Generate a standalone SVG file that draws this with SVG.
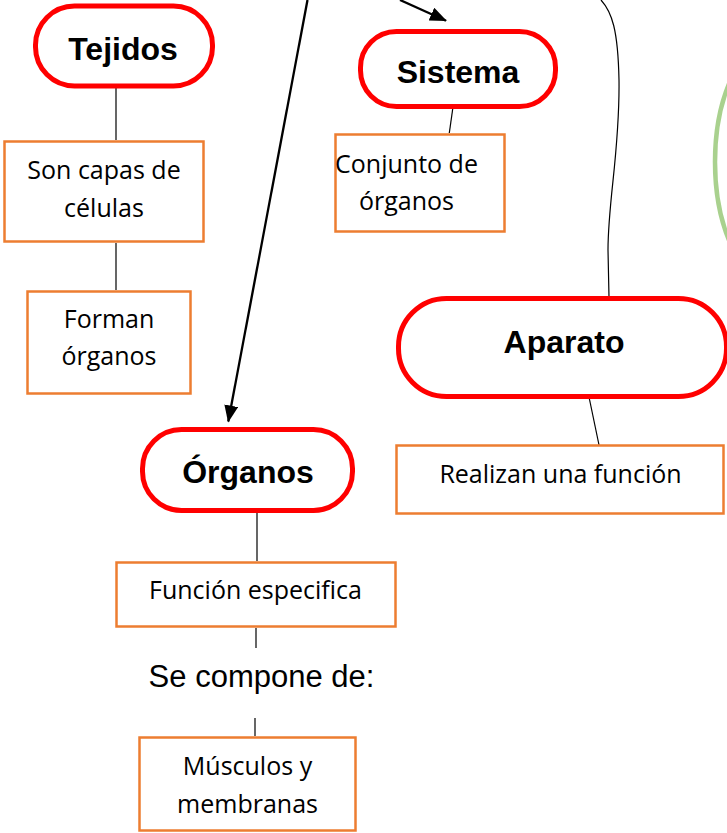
<svg xmlns="http://www.w3.org/2000/svg" width="727" height="833" viewBox="0 0 727 833">
<style>
.pill{fill:#fff;stroke:#ff0000;stroke-width:5}
.box{fill:#fff;stroke:#ed7d31;stroke-width:2.5}
.lbl{font-family:"Liberation Sans",Arial,sans-serif;font-weight:bold;font-size:32px;fill:#000;text-anchor:middle}
.txt{font-family:"Open Sans","Noto Sans",sans-serif;font-size:25px;fill:#000;text-anchor:middle}
.plain{font-family:"Liberation Sans",Arial,sans-serif;font-size:31px;fill:#000;text-anchor:middle}
.ln{fill:none;stroke:#000;stroke-width:1.2}
.arr{fill:none;stroke:#000;stroke-width:2.3}
</style>
<defs>
<marker id="ah" markerUnits="userSpaceOnUse" markerWidth="17" markerHeight="14" viewBox="0 0 17 14" refX="16" refY="7" orient="auto">
<path d="M0,0 L17,7 L0,14 z" fill="#000"/>
</marker>
</defs>
<rect width="727" height="833" fill="#fff"/>
<ellipse id="green-oval" cx="785" cy="162" rx="70" ry="130" fill="none" stroke="#a9d18e" stroke-width="4.5"/>
<g id="connectors">
<line class="ln" x1="116" y1="88" x2="116" y2="140"/>
<line class="ln" x1="116" y1="243" x2="116" y2="290"/>
<line class="ln" x1="452.7" y1="109" x2="449.3" y2="133"/>
<path class="ln" d="M601,0 C612,12 618,30 619,80 C620,150 608,200 608,250 L609,297"/>
<line class="ln" x1="589" y1="397" x2="599" y2="445"/>
<line class="ln" x1="257" y1="512" x2="257" y2="561"/>
<line class="ln" x1="256" y1="628" x2="256" y2="648"/>
<line class="ln" x1="255" y1="718" x2="255" y2="736"/>
<line class="arr" x1="307.5" y1="0" x2="228.3" y2="421.5" marker-end="url(#ah)"/>
<line class="arr" x1="400" y1="0" x2="446" y2="20.7" marker-end="url(#ah)"/>
</g>
<g id="tejidos">
<rect class="pill" x="35.5" y="6" width="177" height="80" rx="39"/>
<text class="lbl" x="123" y="60">Tejidos</text>
</g>
<g id="son-capas">
<rect class="box" x="4.5" y="141.5" width="199" height="100"/>
<text class="txt" x="104" y="179">Son capas de</text>
<text class="txt" x="104" y="217">células</text>
</g>
<g id="forman">
<rect class="box" x="27.5" y="291.5" width="163" height="102"/>
<text class="txt" x="109" y="328">Forman</text>
<text class="txt" x="109" y="365">órganos</text>
</g>
<g id="sistema">
<rect class="pill" x="360.5" y="31.5" width="195" height="75" rx="36"/>
<text class="lbl" x="458" y="83">Sistema</text>
</g>
<g id="conjunto">
<rect class="box" x="335.5" y="134.5" width="169" height="97"/>
<text class="txt" x="406.5" y="173">Conjunto de</text>
<text class="txt" x="406.5" y="210">órganos</text>
</g>
<g id="aparato">
<rect class="pill" x="398.5" y="298.5" width="328" height="98" rx="48"/>
<text class="lbl" x="564" y="353">Aparato</text>
</g>
<g id="realizan">
<rect class="box" x="396.5" y="445.5" width="327" height="68"/>
<text class="txt" x="560.5" y="483">Realizan una función</text>
</g>
<g id="organos">
<rect class="pill" x="142.5" y="429.5" width="210" height="81" rx="39"/>
<text class="lbl" x="248" y="483">Órganos</text>
</g>
<g id="funcion">
<rect class="box" x="116.5" y="562.5" width="279" height="64"/>
<text class="txt" x="255.5" y="599">Función especifica</text>
</g>
<g id="se-compone">
<text class="plain" x="261.5" y="687">Se compone de:</text>
</g>
<g id="musculos">
<rect class="box" x="139.5" y="737.5" width="216" height="93"/>
<text class="txt" x="247.5" y="775">Músculos y</text>
<text class="txt" x="247.5" y="813">membranas</text>
</g>
</svg>
